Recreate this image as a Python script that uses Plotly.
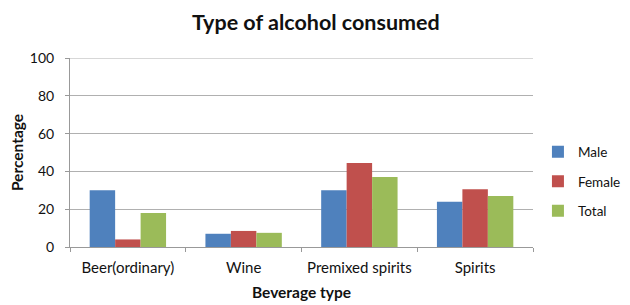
import plotly.graph_objects as go

categories = ["Beer(ordinary)", "Wine", "Premixed spirits", "Spirits"]
male = [30, 7, 30, 24]
female = [4, 8.5, 44.5, 30.5]
total = [18, 7.5, 37, 27]
series_names = ["Male", "Female", "Total"]
colors = ["#4F81BD", "#C0504D", "#9BBB59"]

FONT = "Lato, Open Sans, sans-serif"
fig = go.Figure()
for name, vals, col in zip(series_names, [male, female, total], colors):
    fig.add_trace(go.Bar(x=categories, y=vals, name=name, marker_color=col,
                         marker_line_width=0, legendgroup=name))

# page body has an 8px margin; figure is sized to fill the 630x305 window
fig.update_layout(
    width=622, height=297,
    margin=dict(l=62, r=97, t=50, b=58, autoexpand=False),
    paper_bgcolor="white", plot_bgcolor="white",
    barmode="group", bargap=0.34, bargroupgap=0,
    font=dict(family=FONT, size=14, color="#111"),
    title=dict(text="<b>Type of alcohol consumed</b>", x=0.495, xanchor="center",
               y=0.952, yanchor="middle", font=dict(size=21.5, color="#111")),
    legend=dict(xref="container", x=0.852, xanchor="left", y=0.585, yanchor="top",
                font=dict(size=13.5), tracegroupgap=9, traceorder="grouped",
                itemwidth=30),
    showlegend=True,
    shapes=[dict(type="line", xref="paper", yref="y", x0=0, x1=1, y0=100, y1=100,
                 line=dict(color="#b0b0b0", width=1), layer="below")],
)
fig.update_xaxes(
    type="category", tickson="boundaries", ticks="outside", ticklen=4,
    tickcolor="#999", showline=True, linecolor="#999", linewidth=1,
    showgrid=False, automargin=False,
    title=dict(text="<b>Beverage type</b>", font=dict(size=15.5), standoff=12),
    tickfont=dict(size=15), ticklabelstandoff=7,
)
fig.update_yaxes(
    range=[0, 100], dtick=20, ticks="outside", ticklen=4, tickcolor="#999",
    showline=True, linecolor="#999", linewidth=1,
    showgrid=True, gridcolor="#b0b0b0", gridwidth=1, automargin=False,
    title=dict(text="<b>Percentage</b>", font=dict(size=15.5), standoff=10),
    tickfont=dict(size=14), zeroline=False, ticklabelstandoff=8,
)
fig.write_html("out.html")
